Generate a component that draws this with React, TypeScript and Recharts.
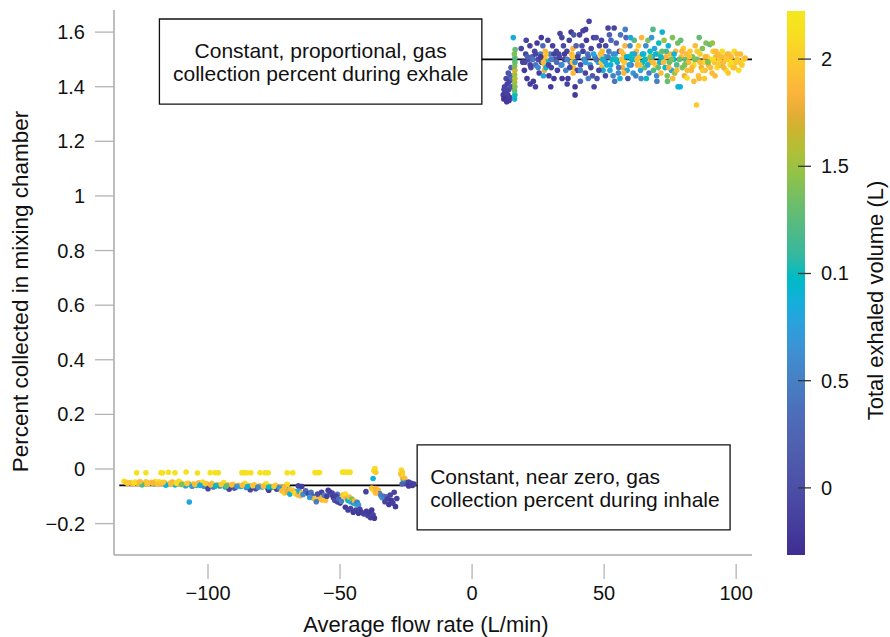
import { ScatterChart, Scatter, XAxis, YAxis, ReferenceLine, ReferenceArea } from 'recharts';

// [average flow rate (L/min), percent collected, total exhaled volume (L)]
type Point = [number, number, number];

const flowTicks = [-100, -50, 0, 50, 100];
const flowTickLabels = ['−100', '−50', '0', '50', '100'];
const percentTicks = [-0.2, 0, 0.2, 0.4, 0.6, 0.8, 1, 1.2, 1.4, 1.6];
const percentTickLabels = ['−0.2', '0', '0.2', '0.4', '0.6', '0.8', '1', '1.2', '1.4', '1.6'];
const volumeTicks = [0, 0.5, 1, 1.5, 2];
const volumeTickLabels = ['0', '0.5', '0.1', '1.5', '2'];

const exhaleLevel = 1.5;
const inhaleLevel = -0.06;

const exhaleRamp: Point[] = [
  [11.8, 1.37, -0.15], [12.0, 1.355, -0.2], [12.3, 1.4, -0.1], [12.5, 1.38, -0.2], [12.7, 1.36, -0.25],
  [12.9, 1.43, -0.05], [13.1, 1.345, -0.2], [13.3, 1.41, -0.15], [13.5, 1.37, -0.2], [13.7, 1.45, 0.05],
  [13.9, 1.39, -0.1], [14.1, 1.42, -0.15], [14.3, 1.36, -0.2], [14.5, 1.44, 0.1], [14.7, 1.47, 0.2],
  [14.9, 1.4, 0.0], [15.1, 1.43, 0.3], [12.1, 1.39, -0.1], [13.0, 1.375, -0.15], [14.0, 1.35, -0.2],
];

const exhaleStripe: Point[] = [
  [16.1, 1.355, 0.85], [16.2, 1.37, 1.0], [16.1, 1.385, 1.3], [16.2, 1.4, 1.4], [16.1, 1.415, 1.5],
  [16.2, 1.43, 1.6], [16.1, 1.445, 1.5], [16.2, 1.46, 1.7], [16.1, 1.475, 1.4], [16.2, 1.49, 1.3],
  [16.2, 1.505, 1.2], [16.0, 1.52, 1.4], [15.6, 1.58, 0.85], [16.3, 1.536, 1.3],
];

const exhaleLow: Point[] = [
  [18.6, 1.54, -0.1], [19.2, 1.49, -0.15], [19.8, 1.46, -0.2], [20.3, 1.52, -0.1], [20.8, 1.43, -0.2],
  [21.4, 1.5, 0.0], [21.9, 1.55, -0.15], [22.3, 1.47, -0.1], [22.8, 1.51, 0.2], [23.2, 1.42, -0.2],
  [23.7, 1.53, -0.1], [24.1, 1.48, 0.4], [24.6, 1.56, -0.2], [25.0, 1.5, -0.05], [25.4, 1.45, -0.15],
  [25.9, 1.52, 0.5], [26.3, 1.49, -0.1], [26.8, 1.55, 0.3], [27.2, 1.51, 1.9], [27.5, 1.48, 2.0],
  [27.7, 1.53, 1.85], [27.9, 1.5, 1.95], [27.4, 1.46, 1.8], [28.3, 1.49, 0.9], [28.7, 1.57, -0.1],
  [29.1, 1.44, -0.2], [29.5, 1.52, 0.5], [30.0, 1.47, -0.1], [30.5, 1.55, -0.15], [31.0, 1.43, -0.2],
  [31.5, 1.5, 0.0], [31.9, 1.53, -0.1], [22.0, 1.41, -0.2], [24.0, 1.4, -0.15], [26.2, 1.58, -0.2],
  [29.8, 1.4, -0.2], [20.5, 1.57, -0.1], [28.0, 1.47, 0.9], [27.0, 1.44, 0.8],
];

const exhaleMid: Point[] = [
  [32.3, 1.46, -0.15], [32.8, 1.52, -0.1], [33.3, 1.595, -0.1], [33.7, 1.48, 0.3], [34.1, 1.43, -0.2],
  [34.6, 1.55, -0.05], [35.0, 1.5, -0.15], [35.5, 1.46, 0.5], [35.9, 1.53, -0.1], [36.3, 1.43, -0.2],
  [36.8, 1.57, -0.15], [37.2, 1.49, 0.4], [37.7, 1.52, 1.9], [38.0, 1.49, 2.0], [38.2, 1.54, 1.85],
  [38.4, 1.47, 1.95], [38.6, 1.51, 2.1], [39.0, 1.4, -0.2], [39.0, 1.37, -0.2], [39.4, 1.55, 0.2],
  [39.8, 1.46, -0.1], [40.3, 1.52, 0.5], [40.7, 1.59, -0.15], [41.1, 1.48, -0.05], [41.6, 1.55, 0.0],
  [42.0, 1.605, -0.15], [42.4, 1.5, 0.6], [42.9, 1.45, -0.1], [43.3, 1.57, -0.2], [43.8, 1.52, 0.4],
  [44.3, 1.64, -0.1], [44.7, 1.48, 0.7], [45.1, 1.54, -0.1], [45.6, 1.44, 0.1], [46.0, 1.58, -0.1],
  [46.5, 1.51, 0.5], [47.0, 1.58, 0.0], [47.3, 1.43, 0.0], [47.8, 1.49, 0.8], [48.2, 1.55, -0.1],
  [48.6, 1.52, 1.9], [48.9, 1.49, 2.0], [49.1, 1.47, 1.85], [49.3, 1.53, 1.9], [49.6, 1.46, 0.9],
  [49.0, 1.57, -0.1], [36.0, 1.41, -0.1], [41.0, 1.42, 0.3], [44.0, 1.43, 0.5], [46.2, 1.4, -0.1],
  [34.0, 1.58, -0.1], [37.5, 1.6, -0.2], [43.0, 1.61, -0.15], [38.5, 1.59, 0.1],
];

const exhaleMixed: Point[] = [
  [50.2, 1.51, 0.6], [50.6, 1.55, -0.1], [51.0, 1.48, 0.9], [51.5, 1.615, -0.1], [51.8, 1.53, 0.5],
  [52.2, 1.46, 0.8], [52.6, 1.57, 0.3], [53.0, 1.5, 1.0], [53.4, 1.44, 0.5], [53.8, 1.615, -0.1],
  [54.2, 1.52, 0.7], [54.6, 1.56, 0.2], [55.0, 1.49, 0.9], [55.4, 1.45, 0.6], [55.8, 1.53, -0.05],
  [56.2, 1.59, 0.4], [56.6, 1.5, 1.9], [57.0, 1.47, 1.8], [57.3, 1.52, 1.95], [57.6, 1.49, 2.0],
  [57.9, 1.55, 1.85], [58.3, 1.58, 0.3], [58.7, 1.46, 0.8], [59.0, 1.43, 0.05], [59.4, 1.51, 0.9],
  [59.8, 1.55, 0.6], [60.2, 1.48, 0.4], [60.6, 1.52, 1.0], [61.0, 1.45, 0.7], [61.4, 1.57, 1.2],
  [61.8, 1.5, 0.9], [62.2, 1.53, 1.9], [62.6, 1.48, 1.8], [63.0, 1.55, 2.0], [63.4, 1.51, 1.95],
  [63.8, 1.46, 0.8], [64.2, 1.58, 1.85], [64.6, 1.49, 1.0], [50.5, 1.44, -0.1], [52.0, 1.59, 0.2],
  [54.0, 1.42, 0.4], [56.0, 1.43, 0.9], [58.0, 1.61, 0.5], [60.0, 1.58, 0.8], [62.0, 1.44, 0.5],
  [64.0, 1.43, 0.6],
];

const exhaleHigh: Point[] = [
  [65.0, 1.52, 0.9], [65.4, 1.47, 1.3], [65.8, 1.55, 0.6], [66.2, 1.5, 1.9], [66.6, 1.57, 1.4],
  [67.0, 1.45, 0.5], [67.4, 1.53, 1.0], [67.8, 1.49, 1.8], [68.0, 1.58, 0.7], [68.3, 1.51, 0.9],
  [68.7, 1.46, 1.2], [69.1, 1.54, 0.8], [69.5, 1.48, 2.0], [69.9, 1.44, 0.6], [70.3, 1.52, 1.4],
  [70.7, 1.56, 1.0], [71.1, 1.49, 0.9], [71.5, 1.45, 1.9], [71.9, 1.53, 1.3], [72.3, 1.5, 0.8],
  [72.7, 1.57, 1.5], [73.1, 1.47, 1.0], [73.5, 1.51, 1.85], [73.9, 1.44, 1.4], [74.3, 1.55, 0.9],
  [74.7, 1.49, 1.3], [75.1, 1.52, 1.9], [75.5, 1.46, 0.8], [75.9, 1.58, 1.4], [76.3, 1.5, 1.0],
  [76.7, 1.45, 1.5], [77.1, 1.53, 1.9], [77.5, 1.48, 1.2], [77.9, 1.56, 1.35], [78.0, 1.4, 0.9],
  [78.8, 1.4, 0.9], [79.2, 1.51, 1.9], [79.6, 1.47, 1.4], [80.0, 1.54, 2.0], [80.4, 1.44, 1.8],
  [80.8, 1.5, 1.3], [81.2, 1.52, 1.9], [81.4, 1.432, 2.1], [66.0, 1.43, 1.0], [70.0, 1.42, 0.5],
  [72.0, 1.6, 0.9], [74.0, 1.42, 1.3], [76.0, 1.43, 1.9], [68.5, 1.61, 1.2], [79.0, 1.57, 1.3],
];

const exhaleTail: Point[] = [
  [82.0, 1.49, 1.9], [82.5, 1.53, 2.0], [83.0, 1.46, 1.85], [83.5, 1.51, 1.4], [84.0, 1.48, 2.1],
  [84.5, 1.55, 1.9], [85.0, 1.333, 2.0], [85.2, 1.5, 1.3], [85.7, 1.44, 1.95], [86.0, 1.43, 1.9],
  [86.3, 1.52, 2.0], [86.8, 1.47, 1.8], [87.2, 1.54, 1.4], [87.7, 1.49, 2.1], [88.2, 1.46, 1.9],
  [88.6, 1.56, 1.4], [89.0, 1.51, 2.0], [89.5, 1.48, 1.85], [90.0, 1.555, 1.3], [90.4, 1.5, 2.1],
  [90.9, 1.45, 1.9], [91.3, 1.53, 2.0], [91.8, 1.49, 1.95], [92.3, 1.51, 1.8], [92.8, 1.47, 2.1],
  [93.2, 1.52, 1.9], [93.7, 1.5, 2.0], [94.2, 1.48, 1.4], [94.7, 1.53, 2.1], [95.2, 1.49, 1.9],
  [95.7, 1.51, 2.0], [96.2, 1.46, 2.1], [96.7, 1.52, 1.85], [97.2, 1.5, 2.0], [97.7, 1.48, 2.1],
  [98.2, 1.51, 1.9], [98.8, 1.47, 2.0], [99.3, 1.53, 2.1], [99.8, 1.49, 1.95], [100.4, 1.5, 2.0],
  [101.0, 1.46, 2.1], [101.6, 1.52, 1.9], [102.2, 1.48, 2.0], [102.8, 1.5, 2.1], [103.4, 1.505, 1.9],
  [84.0, 1.42, 1.9], [88.0, 1.43, 2.0], [92.0, 1.44, 1.9], [86.0, 1.58, 1.3], [91.0, 1.56, 1.5],
  [97.0, 1.45, 2.0],
];

const exhaleCore: Point[] = [
  [20.0, 1.49, -0.1], [21.0, 1.51, 0.2], [22.0, 1.48, -0.15], [23.0, 1.5, 0.4], [24.0, 1.52, -0.1],
  [25.0, 1.47, 0.6], [26.0, 1.51, -0.2], [27.0, 1.49, 1.9], [28.0, 1.52, 1.95], [29.0, 1.48, -0.1],
  [30.0, 1.5, 0.5], [31.0, 1.52, -0.15], [32.0, 1.49, 0.3], [33.0, 1.51, -0.1], [34.0, 1.48, 0.6],
  [35.0, 1.52, -0.2], [36.0, 1.5, 0.5], [37.0, 1.47, -0.1], [38.0, 1.51, 1.95], [38.3, 1.45, 1.9],
  [39.0, 1.49, 0.6], [40.0, 1.51, -0.1], [41.0, 1.46, 0.5], [42.0, 1.53, -0.15], [43.0, 1.49, 0.7],
  [44.0, 1.51, 0.3], [45.0, 1.47, -0.1], [46.0, 1.52, 0.8], [47.0, 1.5, 0.4], [48.0, 1.46, -0.1],
  [49.0, 1.51, 1.95], [49.5, 1.5, 0.9], [50.5, 1.49, 0.8], [51.5, 1.51, 0.5], [52.5, 1.48, 0.9],
  [53.5, 1.52, 0.6], [54.5, 1.5, 1.0], [55.5, 1.47, 0.4], [56.5, 1.53, 1.9], [57.5, 1.45, 1.85],
  [58.5, 1.51, 0.9], [59.5, 1.48, 0.7], [60.5, 1.5, 1.0], [61.5, 1.52, 0.8], [62.5, 1.5, 1.95],
  [63.5, 1.48, 1.9], [64.5, 1.52, 0.9], [65.5, 1.5, 1.0], [66.5, 1.48, 0.8], [67.5, 1.51, 1.4],
  [68.5, 1.49, 1.9], [69.5, 1.52, 0.9], [70.5, 1.47, 1.3], [71.5, 1.51, 1.0], [72.5, 1.49, 1.9],
  [73.5, 1.53, 1.2], [74.5, 1.47, 1.85], [75.5, 1.5, 1.4], [76.5, 1.52, 0.9], [77.5, 1.46, 1.9],
  [78.5, 1.5, 1.3], [79.5, 1.53, 1.85], [80.5, 1.48, 1.4], [81.5, 1.46, 1.9], [82.3, 1.51, 1.95],
  [83.3, 1.47, 1.9], [84.3, 1.5, 1.4], [85.3, 1.53, 2.0], [86.3, 1.49, 1.9], [87.3, 1.46, 2.0],
  [88.3, 1.51, 1.85], [89.3, 1.49, 1.4], [90.3, 1.47, 1.9], [91.3, 1.5, 2.1], [92.3, 1.53, 1.9],
  [93.3, 1.48, 2.0], [94.3, 1.51, 1.9], [95.3, 1.47, 1.85], [96.3, 1.5, 2.0], [97.3, 1.52, 1.9],
  [98.3, 1.49, 2.1], [99.3, 1.47, 1.95], [100.3, 1.52, 1.9], [101.3, 1.49, 2.0],
];

const inhaleTopRow: Point[] = [
  [-127, -0.0135, 2.15], [-123.5, -0.0135, 2.15], [-117.8, -0.0135, 2.15], [-117.2, -0.0135, 2.15],
  [-115, -0.012, 2.15], [-112.5, -0.0135, 2.15], [-108.3, -0.011, 2.15], [-104, -0.0145, 2.15],
  [-99.2, -0.014, 2.15], [-97.3, -0.0135, 2.15], [-96.1, -0.0135, 2.15], [-87.2, -0.0135, 2.15],
  [-86.4, -0.0135, 2.15], [-85.3, -0.0135, 2.15], [-83.8, -0.0135, 2.15], [-80.3, -0.014, 2.15],
  [-78.4, -0.0135, 2.15], [-77.2, -0.0135, 2.15], [-70, -0.0135, 2.15], [-67.9, -0.0135, 2.15],
  [-59.5, -0.013, 2.15], [-58.8, -0.0135, 2.15], [-57.8, -0.013, 2.15], [-49, -0.0115, 2.15],
  [-48.1, -0.0115, 2.15], [-47.2, -0.012, 2.15], [-46.2, -0.0115, 2.15], [-37.2, -0.006, 2.1],
  [-36.8, 0.002, 2.1], [-36.5, -0.012, 2.0], [-26.8, -0.004, 2.1], [-26.4, -0.012, 2.0],
];

const inhaleBand: Point[] = [
  [-131.8, -0.045, 2.1], [-130.5, -0.052, 1.9], [-129.5, -0.05, 2.0], [-128.5, -0.055, 1.85],
  [-127.5, -0.048, 2.1], [-126.5, -0.053, 1.9], [-125.5, -0.05, 1.8], [-124.5, -0.056, 2.0],
  [-123.5, -0.047, 1.95], [-122.5, -0.052, 1.85], [-121.5, -0.049, 2.0], [-120.5, -0.055, 1.3],
  [-119.5, -0.051, 1.9], [-118.5, -0.047, 2.1], [-117.5, -0.054, 1.8], [-116.5, -0.05, 1.95],
  [-115.5, -0.057, 1.4], [-114.5, -0.052, 2.0], [-113.5, -0.048, 1.85], [-112.5, -0.058, 0.9],
  [-111.5, -0.053, 1.9], [-110.5, -0.05, 2.0], [-109.5, -0.056, 1.5], [-108.5, -0.061, 0.8],
  [-107.5, -0.052, 1.9], [-106.5, -0.058, 1.2], [-105.5, -0.054, 2.0], [-104.5, -0.06, 0.9],
  [-103.5, -0.051, 1.85], [-102.5, -0.057, 1.0], [-101.5, -0.063, 0.6], [-100.5, -0.055, 1.9],
  [-99.5, -0.06, 1.3], [-98.5, -0.052, 2.0], [-97.5, -0.064, 0.8], [-96.5, -0.058, 1.9],
  [-95.5, -0.062, 0.5], [-94.5, -0.055, 1.95], [-93.5, -0.066, 0.9], [-92.5, -0.059, 1.8],
  [-91.5, -0.063, 1.2], [-90.5, -0.056, 2.0], [-89.5, -0.067, 0.4], [-88.5, -0.06, 1.9],
  [-87.5, -0.064, 1.0], [-86.5, -0.057, 2.0], [-85.5, -0.068, 0.5], [-84.5, -0.061, 1.85],
  [-83.5, -0.065, 0.9], [-82.5, -0.058, 1.95], [-81.5, -0.069, 0.3], [-80.5, -0.062, 1.9],
  [-79.5, -0.066, 0.8], [-78.5, -0.059, 2.0], [-77.5, -0.07, 0.5], [-76.5, -0.063, 1.85],
  [-75.5, -0.067, 1.0], [-74.5, -0.06, 1.95], [-73.5, -0.071, 0.2], [-72.5, -0.064, 1.9],
  [-71.5, -0.068, 0.8], [-70.5, -0.061, 2.0], [-69.5, -0.072, 0.6],
  [-125, -0.058, 1.2], [-120, -0.046, 2.15], [-116, -0.059, 0.9], [-111, -0.045, 2.1],
  [-106, -0.063, 0.7], [-102, -0.048, 2.1], [-98, -0.066, 0.5], [-94, -0.05, 2.1],
  [-90, -0.07, 0.1], [-86, -0.052, 2.1], [-82, -0.072, 0.0], [-78, -0.054, 2.1],
  [-74, -0.074, -0.1], [-70, -0.056, 2.1], [-100, -0.072, -0.1], [-92, -0.074, -0.15],
  [-84, -0.076, -0.1], [-77, -0.078, -0.2], [-107.1, -0.121, 0.8],
];

const inhaleCore: Point[] = [
  [-131, -0.049, 2.0], [-128, -0.051, 2.1], [-125.8, -0.047, 1.9], [-123, -0.054, 2.0], [-121, -0.051, 1.85],
  [-119, -0.055, 1.95], [-117, -0.049, 2.0], [-114, -0.055, 1.9], [-112, -0.051, 2.1], [-110, -0.057, 1.4],
  [-108, -0.053, 2.0], [-105, -0.057, 1.9], [-103, -0.06, 0.9], [-101, -0.053, 2.0], [-99, -0.058, 1.85],
  [-97, -0.061, 1.0], [-95, -0.057, 2.0], [-93, -0.062, 1.3], [-91, -0.058, 1.9], [-89, -0.063, 0.7],
  [-87, -0.06, 1.9], [-85, -0.064, 0.9], [-83, -0.061, 2.0], [-81, -0.066, 0.6], [-79, -0.063, 1.9],
  [-77, -0.066, 1.0], [-75, -0.064, 2.0], [-73, -0.069, 0.7], [-71, -0.066, 1.9], [-69, -0.075, 1.95],
  [-67, -0.083, 0.9], [-63, -0.086, 0.5], [-61, -0.094, 1.9], [-57, -0.099, 1.9], [-53, -0.088, -0.1],
  [-51, -0.093, 0.4],
];

const inhaleDip: Point[] = [
  [-72, -0.08, 1.9], [-71, -0.088, 2.0], [-70, -0.084, 1.8], [-69, -0.092, 0.9], [-68, -0.078, 1.95],
  [-67, -0.09, 2.1], [-66, -0.095, 1.9], [-65.5, -0.082, 0.8], [-65, -0.098, 1.85], [-64.5, -0.088, 2.0],
  [-64, -0.093, 0.6], [-65.8, -0.062, -0.1], [-64.5, -0.064, -0.2],
  [-63, -0.08, 0.3], [-62, -0.09, -0.1], [-61, -0.085, 0.4], [-60.5, -0.098, 0.2], [-60, -0.108, 1.9],
  [-59, -0.112, 2.0], [-58, -0.106, 1.85], [-57, -0.113, 1.9], [-56, -0.108, 2.0], [-55.5, -0.115, 1.95],
  [-58.5, -0.092, 0.0], [-57, -0.085, -0.1], [-56, -0.096, 0.5], [-55, -0.1, -0.15], [-54.5, -0.078, -0.2],
  [-54, -0.083, -0.15], [-59, -0.12, 0.5], [-61.5, -0.104, 0.7],
  [-53, -0.095, -0.1], [-52.5, -0.105, -0.2], [-52, -0.115, 0.0], [-51.5, -0.1, -0.15], [-51, -0.12, -0.1],
  [-50.5, -0.11, 0.3], [-50, -0.125, -0.2], [-49.5, -0.118, 0.5],
  [-49, -0.095, 1.9], [-48.5, -0.1, 2.0], [-48, -0.092, 2.1], [-47.5, -0.108, 1.85], [-47, -0.115, 1.0],
  [-46.5, -0.103, 1.9], [-46, -0.12, 0.8], [-45.5, -0.11, 1.4], [-45, -0.125, 0.6], [-44.5, -0.117, 1.9],
  [-44, -0.128, 0.9], [-43.5, -0.122, 0.5], [-43, -0.132, 0.7],
  [-48, -0.14, -0.2], [-47, -0.15, -0.15], [-46, -0.145, -0.1], [-45, -0.158, -0.2], [-44, -0.15, -0.15],
  [-43, -0.162, -0.2], [-42.5, -0.148, -0.1],
  [-42, -0.158, -0.2], [-41, -0.165, -0.15], [-40, -0.155, -0.2], [-39.5, -0.17, -0.1], [-39, -0.16, -0.2],
  [-38.5, -0.178, -0.15], [-38, -0.15, -0.2], [-37.5, -0.168, -0.1], [-37, -0.18, -0.2], [-40.2, -0.083, -0.15],
  [-38, -0.07, 1.9], [-37.5, -0.075, 2.0], [-37, -0.08, 2.1], [-36.5, -0.072, 1.85], [-36, -0.085, 1.0],
  [-35.5, -0.078, 1.9], [-35, -0.09, 0.5], [-36.5, -0.088, 1.9], [-37.5, -0.035, 0.9],
  [-34.5, -0.098, 0.5], [-34, -0.105, 0.6], [-33.5, -0.1, 0.4], [-33, -0.11, 0.7], [-32.5, -0.102, 0.3],
  [-33, -0.12, -0.1], [-32, -0.11, -0.15], [-31.5, -0.13, -0.2], [-31, -0.095, -0.1], [-30.5, -0.115, -0.2],
  [-30, -0.125, -0.15], [-29.5, -0.085, -0.1], [-29, -0.138, -0.2], [-28.5, -0.108, -0.15],
  [-27, -0.018, 2.0], [-26.5, -0.025, 1.9], [-26, -0.03, 2.1], [-26.2, -0.038, 1.8], [-25.8, -0.045, 1.0],
  [-25.5, -0.035, 1.9], [-25, -0.05, 0.6], [-24.5, -0.055, -0.1], [-24, -0.048, -0.15], [-23.5, -0.058, -0.2],
  [-23, -0.052, -0.1], [-22.5, -0.06, -0.2], [-22, -0.055, -0.15], [-24, -0.062, -0.2], [-26.5, -0.055, 0.2],
];

const groups = [
  inhaleBand, inhaleCore, inhaleDip, inhaleTopRow,
  exhaleRamp, exhaleStripe, exhaleLow, exhaleMid, exhaleMixed, exhaleHigh, exhaleTail, exhaleCore,
];

const VMIN = -0.313;
const VMAX = 2.229;
const FONT = '"Liberation Sans", Arial, Helvetica, sans-serif';

// parula-like colour map
const palette: [number, string][] = [
  [0, '#3e2d92'], [0.06, '#463f9e'], [0.12, '#4c4ea6'], [0.2, '#5060b0'], [0.27, '#4c70bc'],
  [0.33, '#4682c6'], [0.38, '#3c92d4'], [0.43, '#28a3de'], [0.47, '#12b0da'], [0.51, '#00bbc4'],
  [0.55, '#34b8a0'], [0.6, '#52ba84'], [0.65, '#6fbe68'], [0.7, '#92c248'], [0.74, '#aec038'],
  [0.78, '#cbb52f'], [0.81, '#e4ad35'], [0.85, '#fcb43c'], [0.9, '#fcc630'], [0.95, '#f8dc22'],
  [1, '#f4e81c'],
];

const hex = (c: string) => [1, 3, 5].map((i) => parseInt(c.slice(i, i + 2), 16));

function volumeColor(v: number) {
  const t = Math.min(1, Math.max(0, (v - VMIN) / (VMAX - VMIN)));
  for (let i = 1; i < palette.length; i++) {
    const [t1, c1] = palette[i];
    if (t <= t1) {
      const [t0, c0] = palette[i - 1];
      const f = (t - t0) / (t1 - t0);
      const a = hex(c0);
      const b = hex(c1);
      const mix = a.map((val, k) => Math.round(val + (b[k] - val) * f));
      return `rgb(${mix.join(',')})`;
    }
  }
  return palette[palette.length - 1][1];
}

const renderDot = (p: any) => (
  <circle cx={p.cx} cy={p.cy} r={2.8} fill={volumeColor(p.payload.v)} />
);

const renderFlowTick = (p: any) => {
  const i = flowTicks.indexOf(p.payload.value);
  return (
    <g>
      <line x1={p.x} x2={p.x} y1={p.y + 9} y2={p.y + 24} stroke="#b3b3b3" strokeWidth={1.3} />
      <text x={p.x} y={p.y + 45} textAnchor="middle" fontSize={20} fill="#111">{flowTickLabels[i]}</text>
    </g>
  );
};

const renderPercentTick = (p: any) => {
  const i = percentTicks.findIndex((t) => Math.abs(t - p.payload.value) < 1e-9);
  return (
    <g>
      <line x1={p.x - 19} x2={p.x} y1={p.y} y2={p.y} stroke="#b3b3b3" strokeWidth={1.3} />
      <text x={p.x - 29} y={p.y + 7} textAnchor="end" fontSize={20} fill="#111">{percentTickLabels[i]}</text>
    </g>
  );
};

const renderVolumeTick = (p: any) => {
  const i = volumeTicks.indexOf(p.payload.value);
  return (
    <g>
      <line x1={p.x + 46} x2={p.x + 59} y1={p.y} y2={p.y} stroke="#333" strokeWidth={1.3} />
      <text x={p.x + 69} y={p.y + 7} textAnchor="start" fontSize={20} fill="#111">{volumeTickLabels[i]}</text>
    </g>
  );
};

const renderColorBar = (p: any) => {
  const vb = p.viewBox ?? { x: 752, y: 10, width: 138, height: 545 };
  return (
    <g>
      <defs>
        <linearGradient id="volumeGradient" x1="0" y1="1" x2="0" y2="0">
          {palette.map(([t, c]) => (
            <stop key={t} offset={t} stopColor={c} />
          ))}
        </linearGradient>
      </defs>
      <rect x={vb.x + 35} y={vb.y + 1} width={18} height={vb.height - 1} fill="url(#volumeGradient)" />
      <text
        transform={`translate(${vb.x + 131}, ${vb.y + vb.height / 2 + 18}) rotate(-90)`}
        textAnchor="middle"
        fontSize={22}
        fill="#111"
      >
        Total exhaled volume (L)
      </text>
    </g>
  );
};

const renderPercentTitle = (p: any) => {
  const vb = p.viewBox ?? { x: 0, y: 10, width: 114, height: 545 };
  return (
    <text
      transform={`translate(${vb.x + 28}, ${vb.y + vb.height / 2 + 9}) rotate(-90)`}
      textAnchor="middle"
      fontSize={22.5}
      fill="#111"
    >
      Percent collected in mixing chamber
    </text>
  );
};

const renderFlowTitle = (p: any) => {
  const vb = p.viewBox ?? { x: 114, y: 555, width: 638, height: 82 };
  return (
    <text x={vb.x + vb.width / 2 - 7} y={vb.y + 77} textAnchor="middle" fontSize={22} fill="#111">
      Average flow rate (L/min)
    </text>
  );
};

const noteLabel = (lines: string[], centered: boolean) => (p: any) => {
  const { x, y, width } = p.viewBox;
  const tx = centered ? x + width / 2 : x + 13;
  return (
    <text textAnchor={centered ? 'middle' : 'start'} fontSize={21} fill="#111">
      {lines.map((line, i) => (
        <tspan key={line} x={tx} y={y + 39 + i * 23}>{line}</tspan>
      ))}
    </text>
  );
};

export default function App() {
  return (
    <div style={{ position: 'absolute', left: 0, top: 0, background: '#fff', fontFamily: FONT }}>
      <ScatterChart width={890} height={637} margin={{ top: 10, right: 0, bottom: 0, left: 0 }}>
        <XAxis
          type="number"
          dataKey="x"
          domain={[-135.6, 106]}
          ticks={flowTicks}
          interval={0}
          allowDataOverflow
          height={82}
          axisLine={{ stroke: '#a8a8a8', strokeWidth: 1.5 }}
          tickLine={false}
          tickSize={0}
          tickMargin={0}
          tick={renderFlowTick}
          label={{ content: renderFlowTitle }}
        />
        <YAxis
          yAxisId="p"
          type="number"
          dataKey="y"
          domain={[-0.315, 1.681]}
          ticks={percentTicks}
          interval={0}
          allowDataOverflow
          width={114}
          axisLine={{ stroke: '#a8a8a8', strokeWidth: 1.5 }}
          tickLine={false}
          tickSize={0}
          tickMargin={0}
          tick={renderPercentTick}
          label={{ content: renderPercentTitle }}
        />
        <YAxis
          yAxisId="v"
          orientation="right"
          type="number"
          domain={[VMIN, VMAX]}
          ticks={volumeTicks}
          interval={0}
          allowDataOverflow
          width={138}
          axisLine={false}
          tickLine={false}
          tickSize={0}
          tickMargin={0}
          tick={renderVolumeTick}
          label={{ content: renderColorBar }}
        />
        {groups.map((g, i) => (
          <Scatter
            key={i}
            yAxisId="p"
            data={g.map(([x, y, v]) => ({ x, y, v }))}
            shape={renderDot}
            isAnimationActive={false}
          />
        ))}
        <ReferenceLine
          yAxisId="p"
          segment={[{ x: 3.7, y: exhaleLevel }, { x: 106, y: exhaleLevel }]}
          stroke="#000"
          strokeWidth={1.6}
        />
        <ReferenceLine
          yAxisId="p"
          segment={[{ x: -133.6, y: inhaleLevel }, { x: -20.8, y: inhaleLevel }]}
          stroke="#000"
          strokeWidth={1.6}
        />
        <ReferenceArea
          yAxisId="p"
          x1={-118.4}
          x2={3.7}
          y1={1.336}
          y2={1.648}
          fill="#fff"
          fillOpacity={1}
          stroke="#111"
          strokeWidth={1.3}
          label={{ content: noteLabel(['Constant, proportional, gas', 'collection percent during exhale'], true) }}
        />
        <ReferenceArea
          yAxisId="p"
          x1={-20.8}
          x2={97.7}
          y1={-0.223}
          y2={0.088}
          fill="#fff"
          fillOpacity={1}
          stroke="#111"
          strokeWidth={1.3}
          label={{ content: noteLabel(['Constant, near zero, gas', 'collection percent during inhale'], false) }}
        />
      </ScatterChart>
    </div>
  );
}
